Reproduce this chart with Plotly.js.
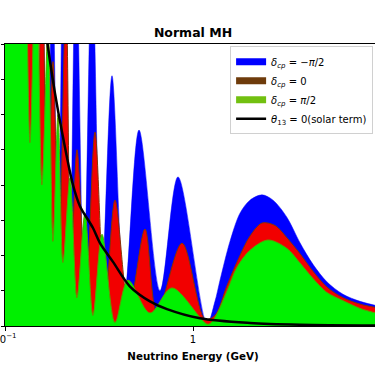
<!DOCTYPE html>
<html>
<head>
<meta charset="utf-8">
<script src="https://cdn.plot.ly/plotly-3.0.1.min.js"></script>
<style>
html,body{margin:0;padding:0;overflow:hidden;background:#fff;}
#plot{width:382px;height:366px;}
</style>
</head>
<body>
<div id="plot"></div>
<script>
// Energies (GeV) and appearance probabilities
const eBlue = [0.1000,0.1070,0.1116,0.1163,0.1217,0.1274,0.1339,0.1408,0.1488,0.1575,0.1675,0.1786,0.1916,0.2060,0.2212,0.2385,0.2625,0.2903,0.3257,0.3708,0.4310,0.5162,0.6675,0.8322,1.187,1.309,1.392,1.573,1.778,2.010,2.328,2.664,3.162,3.708,4.347,5.163,6.281,7.733,10.0];
const pBlue = [0.06,0.12,0.03,0.12,0.03,0.10,0.03,0.10,0.028,0.11,0.025,0.105,0.02,0.13,0.016,0.11,0.012,0.105,0.010,0.071,0.008,0.0556,0.010,0.0423,0.0005,0.007,0.013,0.024,0.032,0.0357,0.0372,0.0357,0.0308,0.0236,0.0175,0.0125,0.009,0.007,0.0055];

const eRed = [0.1000,0.1089,0.1187,0.1358,0.1471,0.1573,0.1683,0.1800,0.1937,0.2111,0.2244,0.2415,0.2697,0.3011,0.3403,0.3847,0.4566,0.5555,0.6434,0.8740,1.158,1.309,1.517,1.778,2.010,2.328,2.731,3.162,3.708,4.347,5.163,6.281,7.733,10.0];
const pRed = [0.06,0.10,0.035,0.11,0.03,0.11,0.025,0.075,0.02,0.095,0.015,0.05,0.010,0.055,0.006,0.0357,0.005,0.0275,0.0037,0.0235,0.002,0.003,0.0115,0.020,0.0255,0.0292,0.0285,0.025,0.0205,0.0155,0.011,0.008,0.0062,0.005];

const eGreen = [0.1000,0.1089,0.1172,0.1262,0.1358,0.1462,0.1573,0.1694,0.1800,0.1914,0.2034,0.2217,0.2415,0.2664,0.2938,0.3281,0.3847,0.4510,0.5903,0.7733,1.202,1.309,1.517,1.714,2.010,2.506,3.162,3.708,4.347,5.163,6.281,7.733,10.0];
const pGreen = [0.11,0.12,0.092,0.12,0.052,0.11,0.040,0.085,0.024,0.06,0.018,0.042,0.008,0.032,0.003,0.026,0.001,0.013,0.0037,0.0108,0.0005,0.0025,0.010,0.0167,0.0215,0.0244,0.022,0.0179,0.0135,0.0095,0.0072,0.005,0.0033];

const eSolar = [0.1517,0.1694,0.1845,0.2034,0.2300,0.2505,0.2938,0.3201,0.3754,0.4623,0.5903,0.7273,1.089,2.010,3.708,10.0];
const pSolar = [0.098,0.079,0.066,0.0536,0.040,0.034,0.0278,0.0235,0.0182,0.0112,0.007,0.0048,0.0022,0.00085,0.00035,0.00012];

const xTickVals = [0.1, 1];
const xTickText = ['10<sup>−1</sup>', '1'];

const legendNames = ['<i>δ</i><sub><i>cp</i></sub> = −<i>π</i>/2','<i>δ</i><sub><i>cp</i></sub> = 0','<i>δ</i><sub><i>cp</i></sub> = <i>π</i>/2','<i>θ</i><sub>13</sub> = 0(solar term)'];
const legendColors = ['#0000ff','#6e3b0b','#72c010'];

const F = 'DejaVu Sans, sans-serif';
const sp = {shape:'spline', smoothing:0.9};

const data = [
  {x:eBlue, y:pBlue, type:'scatter', mode:'lines', fill:'tozeroy', fillcolor:'#0000ff',
   line:Object.assign({color:'#0000ff', width:0.5}, sp), showlegend:false, hoverinfo:'skip'},
  {x:eRed, y:pRed, type:'scatter', mode:'lines', fill:'tozeroy', fillcolor:'#f20000',
   line:Object.assign({color:'#8a3000', width:1}, sp), showlegend:false, hoverinfo:'skip'},
  {x:eGreen, y:pGreen, type:'scatter', mode:'lines', fill:'tozeroy', fillcolor:'#00f000',
   line:Object.assign({color:'#5aa000', width:1}, sp), showlegend:false, hoverinfo:'skip'},
];
for (let i=0;i<3;i++){
  data.push({x:[null], y:[null], type:'scatter', mode:'lines', name:legendNames[i],
    line:{color:legendColors[i], width:7}, showlegend:true});
}
data.push({x:eSolar, y:pSolar, type:'scatter', mode:'lines', name:legendNames[3],
  line:Object.assign({color:'#000000', width:2.5}, sp), showlegend:true});

const layout = {
  width:382, height:366,
  margin:{l:5, r:1, t:44, b:40},
  paper_bgcolor:'#ffffff', plot_bgcolor:'#ffffff',
  font:{family:F, size:10, color:'#000'},
  title:{text:'<b>Normal MH</b>', font:{family:F, size:12.5, color:'#000'},
    xref:'paper', x:0.5, xanchor:'center', yref:'container', y:0.91, yanchor:'middle'},
  xaxis:{type:'log', range:[-1,1], tickvals:xTickVals, ticktext:xTickText, ticklabeloverflow:'allow',
    ticks:'outside', ticklen:3.5, tickcolor:'#000', tickfont:{family:F, size:10, color:'#000'},
    showline:true, linecolor:'#000', linewidth:1, mirror:true, showgrid:false, zeroline:false,
    title:{text:'<b>Neutrino Energy (GeV)</b>', font:{family:F, size:10.3, color:'#000'}, standoff:9}},
  yaxis:{range:[0,0.08], dtick:0.01, ticks:'outside', ticklen:3.5, tickcolor:'#000',
    showticklabels:false, showline:true, linecolor:'#000', linewidth:1, mirror:true,
    showgrid:false, zeroline:false},
  legend:{x:0.979, xanchor:'right', y:0.992, yanchor:'top', bgcolor:'rgba(255,255,255,0.85)',
    bordercolor:'#d0d0d0', borderwidth:1, font:{family:F, size:10, color:'#000'}, tracegroupgap:0},
  showlegend:true
};
Plotly.newPlot('plot', data, layout, {staticPlot:true, displayModeBar:false});
</script>
</body>
</html>
